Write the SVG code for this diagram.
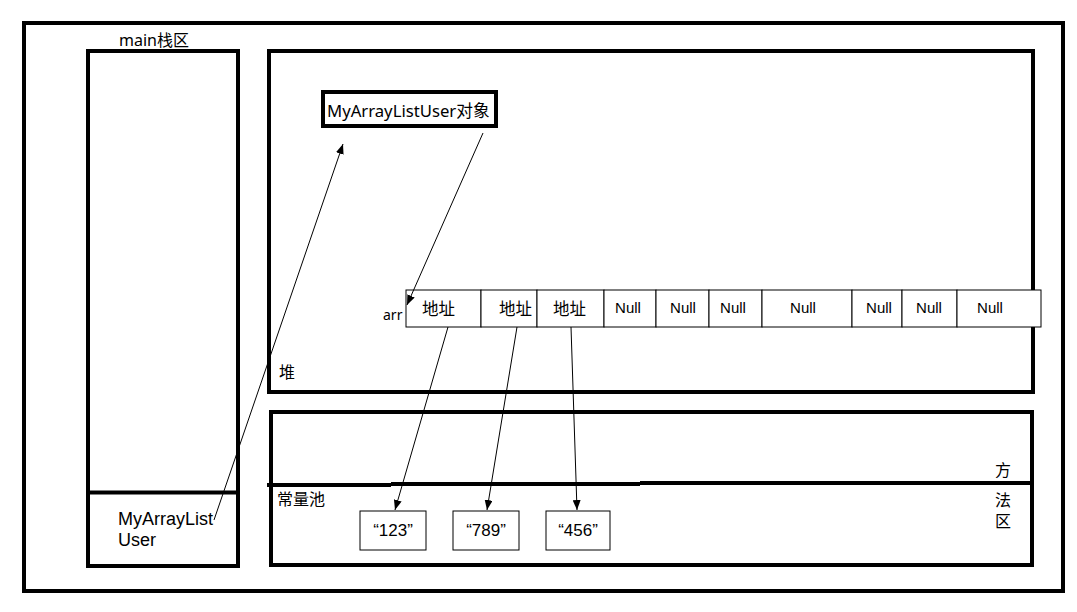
<svg xmlns="http://www.w3.org/2000/svg" width="1077" height="612" viewBox="0 0 1077 612">
<style>
.frame{fill:none;stroke:#000;stroke-width:4}
.cell{fill:#fff;stroke:#000;stroke-width:1}
.cn{font-family:"Noto Sans","Noto Sans CJK SC",sans-serif;fill:#000}
.lat{font-family:"Liberation Sans","Noto Sans CJK SC",sans-serif;fill:#000}
.nul{font-family:"Liberation Sans","Noto Sans CJK SC",sans-serif;font-size:15px;fill:#000;text-anchor:middle}
.str{font-family:"Liberation Sans","Noto Sans CJK SC",sans-serif;font-size:17px;fill:#000;text-anchor:middle}
.conn{fill:none;stroke:#000;stroke-width:1;marker-end:url(#arrow)}
</style>
<defs>
<marker id="arrow" viewBox="0 0 10 8" refX="10" refY="4" markerWidth="10" markerHeight="8" markerUnits="userSpaceOnUse" orient="auto">
<path d="M0,0 L10,4 L0,8 Z" fill="#000"/>
</marker>
</defs>
<rect width="1077" height="612" fill="#fff"/>
<g id="outer"><rect class="frame" x="24" y="23" width="1039" height="568"/></g>
<g id="main-stack">
<rect class="frame" x="88" y="51" width="150" height="515"/>
<line x1="88" y1="492.5" x2="238" y2="492.5" stroke="#000" stroke-width="4"/>
<text class="cn" x="119" y="46" font-size="16">main栈区</text>
<text class="lat" x="118" y="525" font-size="18">MyArrayList</text>
<text class="lat" x="118" y="546" font-size="18">User</text>
</g>
<g id="heap">
<rect class="frame" x="269" y="51" width="764" height="341"/>
<text class="cn" x="279" y="378" font-size="16">堆</text>
</g>
<g id="method-area">
<rect class="frame" x="271" y="412" width="761" height="153"/>
<line x1="267" y1="485" x2="391" y2="485" stroke="#000" stroke-width="4"/>
<line x1="391" y1="484" x2="640" y2="484" stroke="#000" stroke-width="4"/>
<line x1="640" y1="483" x2="1032" y2="483" stroke="#000" stroke-width="4"/>
<text class="cn" x="277" y="505" font-size="16">常量池</text>
<text class="cn" x="995" y="476" font-size="16">方</text>
<text class="cn" x="995" y="506" font-size="16">法</text>
<text class="cn" x="995" y="527" font-size="16">区</text>
</g>
<g id="object">
<rect class="frame" x="323" y="92" width="173" height="34" fill="#fff"/>
<text class="cn" x="327" y="117" font-size="16.7">MyArrayListUser对象</text>
</g>
<g id="arr">
<text class="cn" x="383" y="320" font-size="14">arr</text>
<rect class="cell" x="406" y="290" width="75" height="37"/>
<rect class="cell" x="481" y="290" width="56" height="37"/>
<rect class="cell" x="537" y="290" width="67" height="37"/>
<rect class="cell" x="604" y="290" width="52" height="37"/>
<rect class="cell" x="656" y="290" width="53" height="37"/>
<rect class="cell" x="709" y="290" width="53" height="37"/>
<rect class="cell" x="762" y="290" width="90" height="37"/>
<rect class="cell" x="852" y="290" width="50" height="37"/>
<rect class="cell" x="902" y="290" width="55" height="37"/>
<rect class="cell" x="957" y="290" width="84" height="37"/>
<text class="cn" x="422" y="315" font-size="16.5">地址</text>
<text class="cn" x="499" y="315" font-size="16.5">地址</text>
<text class="cn" x="553" y="315" font-size="16.5">地址</text>
<text class="nul" x="628" y="313">Null</text>
<text class="nul" x="683" y="313">Null</text>
<text class="nul" x="733" y="313">Null</text>
<text class="nul" x="803" y="313">Null</text>
<text class="nul" x="879" y="313">Null</text>
<text class="nul" x="929" y="313">Null</text>
<text class="nul" x="990" y="313">Null</text>
</g>
<g id="str123"><rect class="cell" x="360" y="511" width="66" height="39"/><text class="str" x="393" y="536">“123”</text></g>
<g id="str789"><rect class="cell" x="453" y="511" width="66" height="39"/><text class="str" x="486" y="536">“789”</text></g>
<g id="str456"><rect class="cell" x="546" y="511" width="64" height="39"/><text class="str" x="578" y="536">“456”</text></g>
<g id="connectors">
<line class="conn" x1="214" y1="520" x2="343" y2="144"/>
<line class="conn" x1="483" y1="133" x2="407" y2="305"/>
<line class="conn" x1="448" y1="327" x2="395" y2="510"/>
<line class="conn" x1="517" y1="327" x2="487" y2="510"/>
<line class="conn" x1="571" y1="327" x2="577" y2="510"/>
</g>
</svg>
